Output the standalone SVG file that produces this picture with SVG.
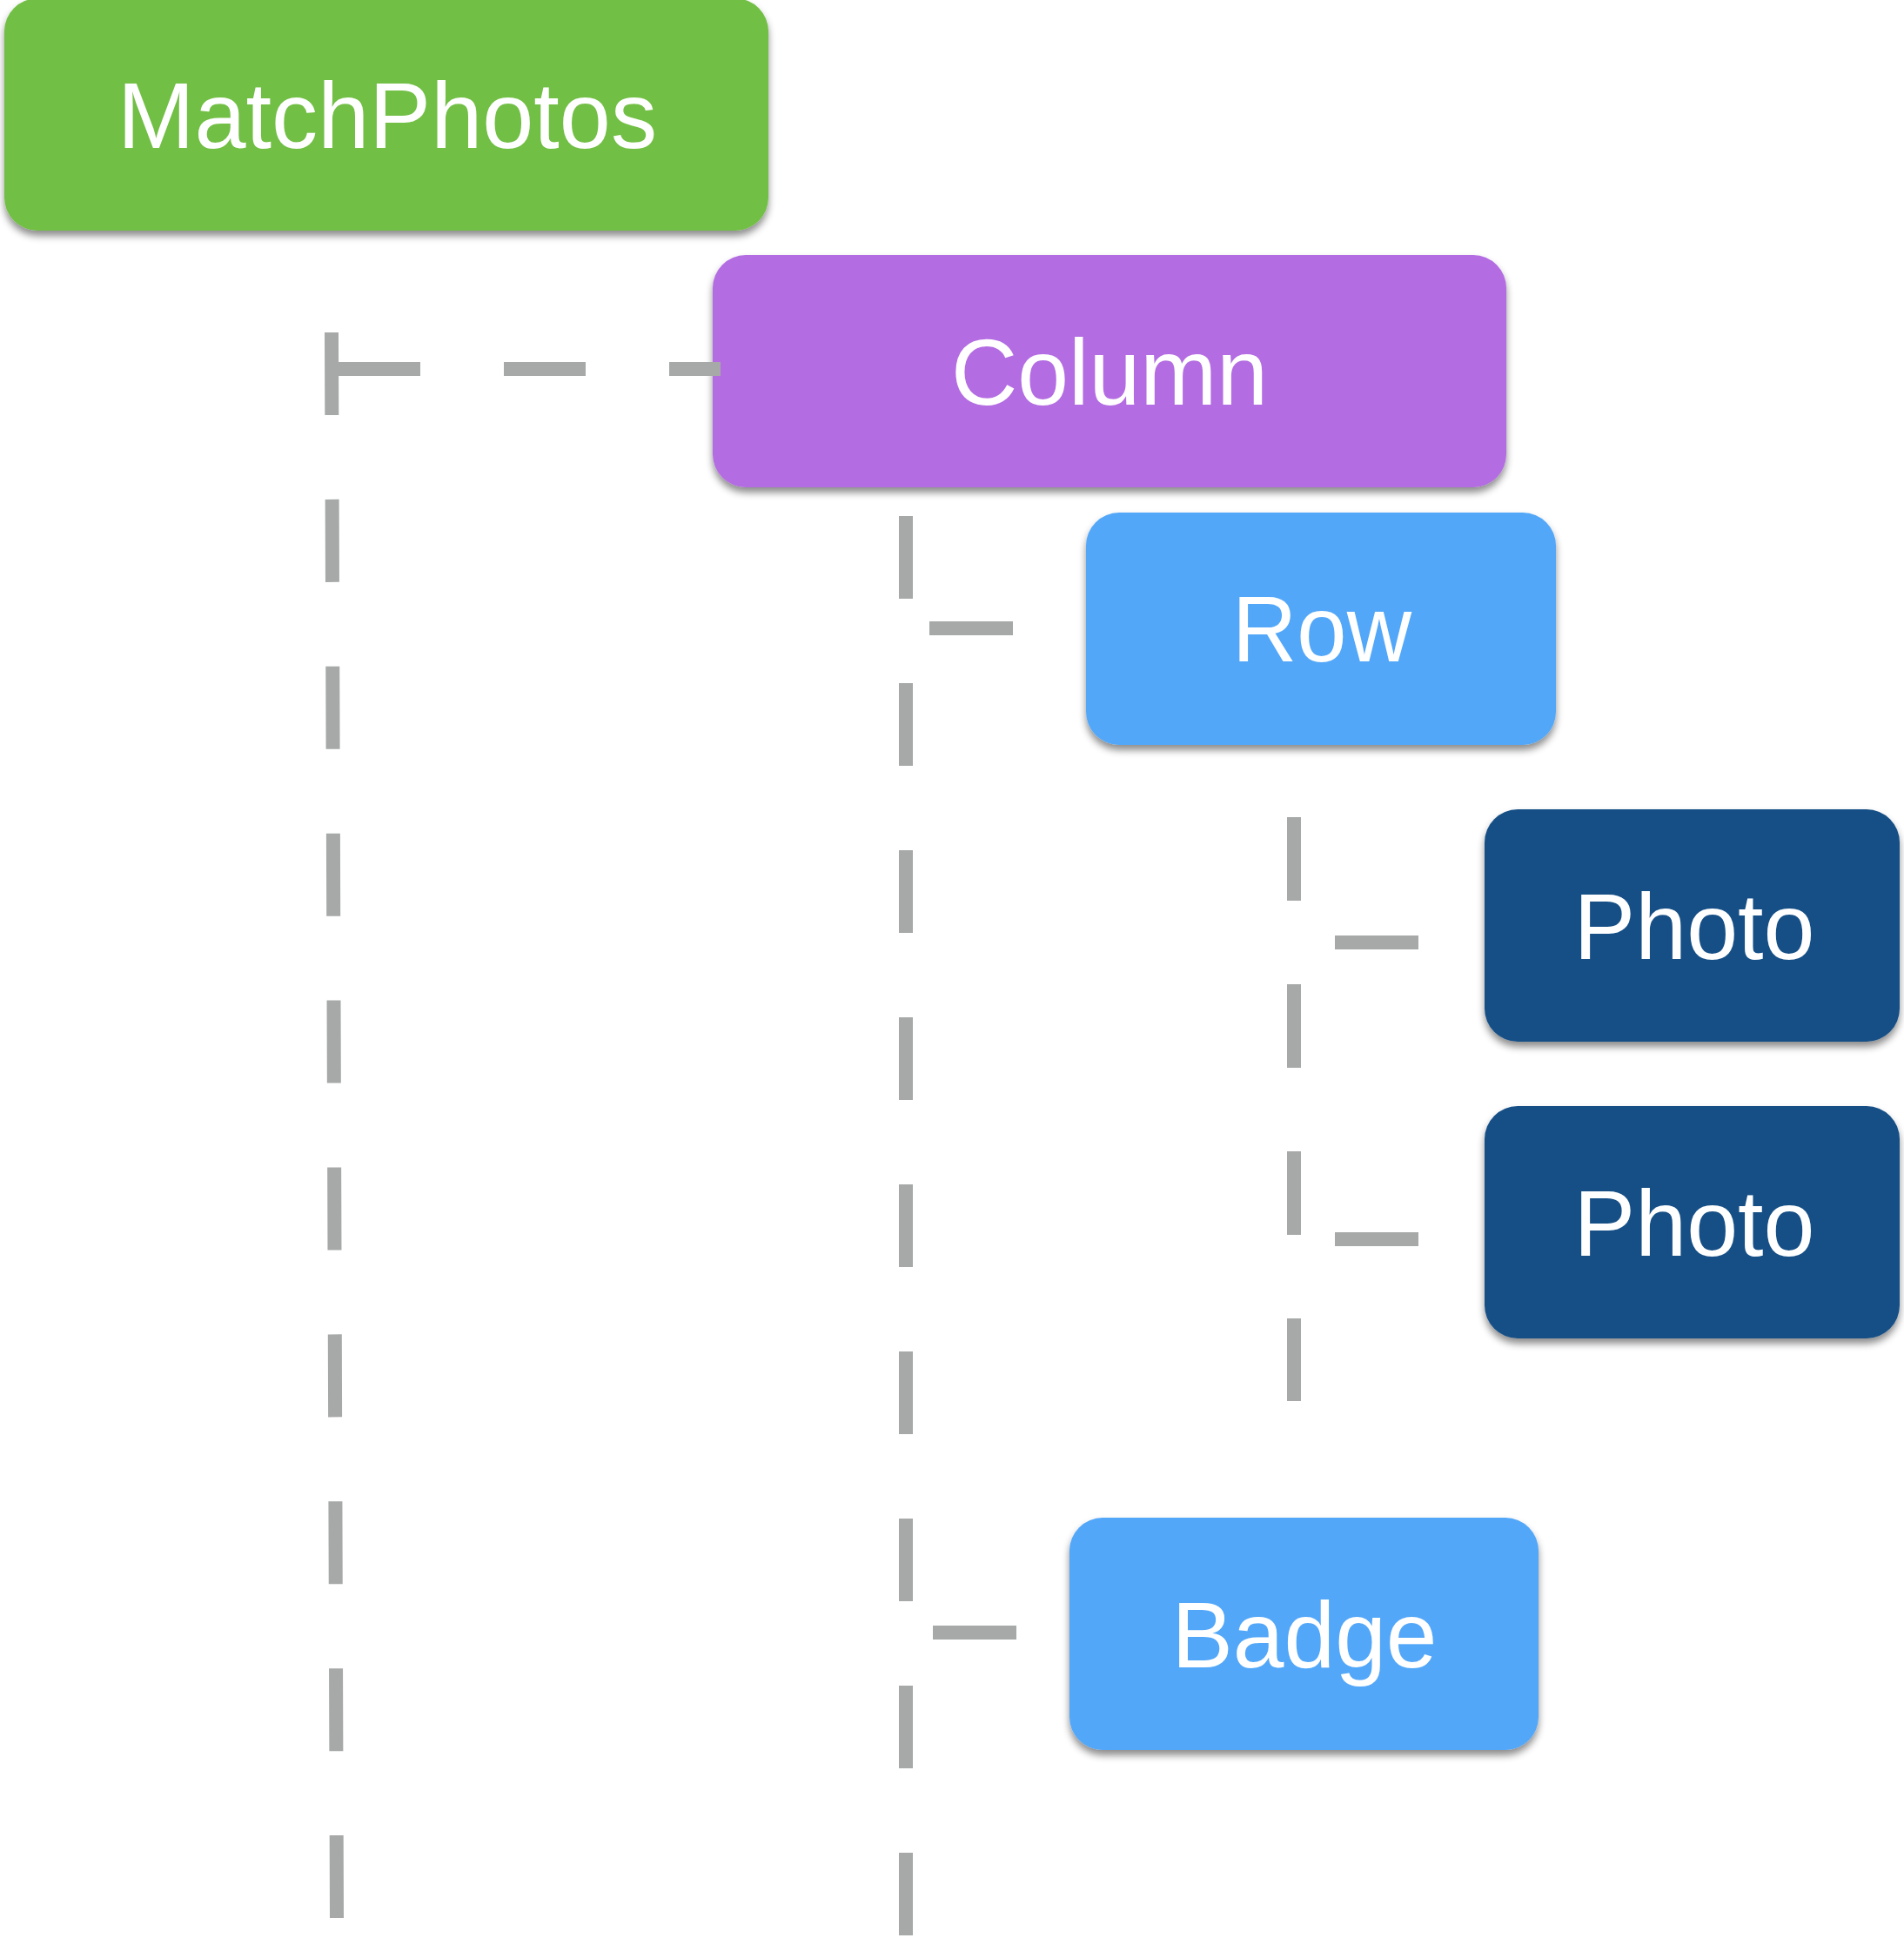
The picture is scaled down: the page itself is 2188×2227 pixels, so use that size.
<svg xmlns="http://www.w3.org/2000/svg" width="2188" height="2227" viewBox="0 0 2188 2227">
  <defs>
    <filter id="shadow" x="-10%" y="-10%" width="120%" height="130%">
      <feDropShadow dx="0" dy="6" stdDeviation="4" flood-color="#000000" flood-opacity="0.45"/>
    </filter>
  </defs>
  <style>
    .box { filter: url(#shadow); }
    .green { fill: #72BF44; }
    .purple { fill: #B36CE2; }
    .light { fill: #53A7F8; }
    .dark { fill: #184F86; }
    .label { font-family: "Liberation Sans", Arial, Helvetica, sans-serif; font-size: 108px; fill: #FFFFFF; text-anchor: middle; }
    .conn { stroke: #A6A9A8; stroke-width: 16; fill: none; stroke-linecap: butt; }
  </style>
  <rect width="2188" height="2227" fill="#FFFFFF"/>

  <g id="node-matchphotos">
    <rect class="box green" x="5" y="-2" width="878" height="267" rx="38" ry="38"/>
    <text class="label" x="445" y="170" textLength="620" lengthAdjust="spacingAndGlyphs">MatchPhotos</text>
  </g>
  <g id="node-column">
    <rect class="box purple" x="819" y="293" width="912" height="267" rx="38" ry="38"/>
    <text class="label" x="1275" y="465" textLength="364" lengthAdjust="spacingAndGlyphs">Column</text>
  </g>
  <g id="node-row">
    <rect class="box light" x="1248" y="589" width="540" height="267" rx="38" ry="38"/>
    <text class="label" x="1519" y="760" textLength="206" lengthAdjust="spacingAndGlyphs">Row</text>
  </g>
  <g id="node-photo-1">
    <rect class="box dark" x="1706" y="930" width="477" height="267" rx="38" ry="38"/>
    <text class="label" x="1947" y="1102" textLength="277" lengthAdjust="spacingAndGlyphs">Photo</text>
  </g>
  <g id="node-photo-2">
    <rect class="box dark" x="1706" y="1271" width="477" height="267" rx="38" ry="38"/>
    <text class="label" x="1947" y="1443" textLength="277" lengthAdjust="spacingAndGlyphs">Photo</text>
  </g>
  <g id="node-badge">
    <rect class="box light" x="1229" y="1744" width="539" height="267" rx="38" ry="38"/>
    <text class="label" x="1499" y="1916" textLength="305" lengthAdjust="spacingAndGlyphs">Badge</text>
  </g>

  <g id="connectors">
    <line class="conn" x1="381" y1="382" x2="387" y2="2205" stroke-dasharray="95 96.9"/>
    <line class="conn" x1="389" y1="424" x2="828" y2="424" stroke-dasharray="94 96"/>
    <line class="conn" x1="1041" y1="593" x2="1041" y2="2227" stroke-dasharray="95 97"/>
    <line class="conn" x1="1068" y1="722" x2="1164" y2="722"/>
    <line class="conn" x1="1072" y1="1876" x2="1168" y2="1876"/>
    <line class="conn" x1="1487" y1="939" x2="1487" y2="1610" stroke-dasharray="96 96"/>
    <line class="conn" x1="1534" y1="1083" x2="1630" y2="1083"/>
    <line class="conn" x1="1534" y1="1424" x2="1630" y2="1424"/>
  </g>
</svg>
